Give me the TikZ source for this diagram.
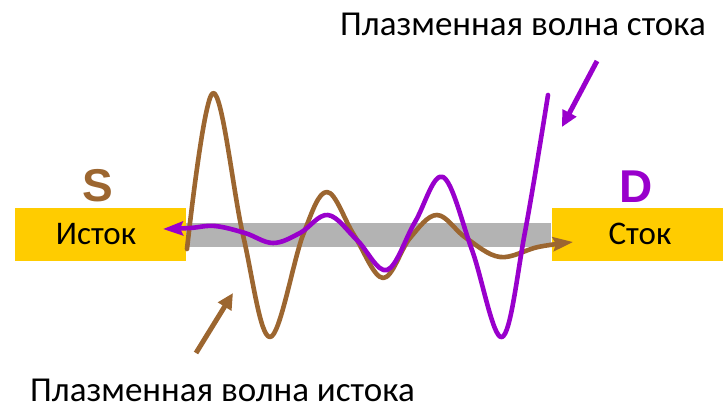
\documentclass[tikz,border=0pt]{standalone}
\usepackage{fontspec}
\setmainfont{Carlito}
\newfontfamily\letterfont{Liberation Sans}
\usetikzlibrary{arrows.meta,positioning}
\definecolor{padyellow}{HTML}{FFCC00}
\definecolor{chgray}{HTML}{B3B3B3}
\definecolor{srcbrown}{HTML}{9C6630}
\definecolor{drnpurple}{HTML}{9900CC}
\begin{document}
\begin{tikzpicture}[x=1pt, y=-1pt, every node/.style={inner sep=0pt},
  pad/.style={fill=padyellow,minimum width=171pt,minimum height=53pt},
  padtext/.style={font=\fontsize{33}{38}\selectfont,anchor=base},
  letter/.style={font=\letterfont\bfseries\fontsize{46}{50}\selectfont,anchor=base},
  caption/.style={font=\fontsize{35}{42}\selectfont,anchor=base},
  wave/.style={line width=4.6pt,line cap=round,line join=round},
  tip/.style={-{Stealth[length=20pt,width=14pt,inset=3pt]}},
  pointer/.style={line width=5pt,-{Triangle[length=16pt,width=15pt]}}]
\useasboundingbox (0,0) rectangle (726,413);
% channel and contacts
\node[fill=chgray,minimum width=365pt,minimum height=24pt] (channel) at (368.5,235) {};
\node[pad] (source) at (100.5,234.5) {};
\node[pad] (drain) at (637,234.5) {};
\node[padtext] (srctext) at (96,244) {Исток};
\node[padtext] (drntext) at (640,244) {Сток};
\node[letter,text=srcbrown] (S) at (98,201) {S};
\node[letter,text=drnpurple] (D) at (636,202) {D};
% source wave
\draw[wave,srcbrown,tip] plot[smooth,tension=0.6] coordinates {(187,249) (213,93) (243,235) (270,337)
  (303,235) (327,192) (354,235) (383,278) (410,238) (437,215) (466,238) (500,257) (538,247) (573,242)};
% drain wave
\draw[wave,drnpurple,tip] plot[smooth,tension=0.6] coordinates {(548,95) (525,232) (502,337) (472,250)
  (443,177) (415,222) (387,270) (357,240) (328,215) (300,233) (273,243) (245,233) (215,226) (190,228) (163,229)};
% captions
\node[caption] (drncap) at (523,35) {Плазменная волна стока};
\node[caption] (srccap) at (222.5,401) {Плазменная волна истока};
\coordinate (drnfrom) at (597,61);
\coordinate (drnto) at (562,127);
\coordinate (srcfrom) at (196,353);
\coordinate (srcto) at (233,293);
\draw[pointer,drnpurple] (drnfrom) -- (drnto);
\draw[pointer,srcbrown] (srcfrom) -- (srcto);
\end{tikzpicture}
\end{document}
